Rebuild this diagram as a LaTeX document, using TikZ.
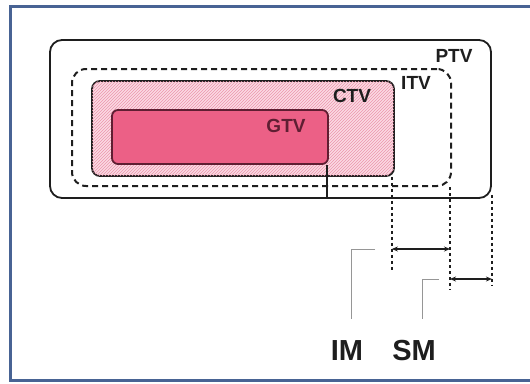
\documentclass[tikz,border=0pt]{standalone}
\usepackage{fontspec}
\setmainfont{Liberation Sans}
\usepackage{tikz}
\usetikzlibrary{arrows.meta,patterns,calc}
\usepackage{xcolor}
\definecolor{Frame}{RGB}{72,99,148}
\definecolor{Ink}{RGB}{30,30,30}
\definecolor{GtvRed}{RGB}{236,96,134}
\definecolor{GtvInk}{RGB}{95,30,50}
\definecolor{CtvPink}{RGB}{251,218,228}
\definecolor{CtvHatch}{RGB}{236,150,172}
\definecolor{Leader}{RGB}{150,150,150}
\tikzset{
  vol/.style={rectangle,draw=Ink,line width=1.8pt,inner sep=0pt},
  ptvbox/.style={vol,rounded corners=12pt,minimum width=441pt,minimum height=158pt},
  itvbox/.style={vol,line width=2pt,dash pattern=on 6pt off 4pt,rounded corners=14pt,
                 minimum width=379pt,minimum height=117pt},
  ctvbox/.style={vol,rounded corners=8pt,minimum width=302pt,minimum height=95pt,
                 fill=CtvPink,postaction={pattern=north east lines,pattern color=CtvHatch}},
  gtvbox/.style={vol,rounded corners=6pt,minimum width=216pt,minimum height=54pt,
                 fill=GtvRed,draw=GtvInk},
  vlabel/.style={font=\fontsize{19}{19}\selectfont\bfseries,text=Ink,inner sep=0pt},
  mlabel/.style={font=\fontsize{29}{29}\selectfont\bfseries,text=Ink,inner sep=0pt},
  extline/.style={Ink,line width=2.6pt,dash pattern=on 3pt off 3pt},
  dimarrow/.style={<->,>={Stealth[length=6pt,width=5pt]},Ink,line width=1.5pt},
  leader/.style={Leader,line width=1pt},
}

\begin{document}
\begin{tikzpicture}[x=1pt,y=-1pt]
  \useasboundingbox (0,0) rectangle (530,383);
  \fill[white] (0,0) rectangle (530,383);
  \draw[Frame,line width=3pt] (10,6) rectangle (545,380);

  % target volumes
  \node[ptvbox] (ptv) at (270.5,119) {};
  \node[itvbox] (itv) at (261.5,127.5) {};
  \node[ctvbox] (ctv) at (243,128.5) {};
  \node[gtvbox] (gtv) at (220,137) {};

  \node[vlabel] (ptvlab) at (454,56) {PTV};
  \node[vlabel] (itvlab) at (416,83) {ITV};
  \node[vlabel] (ctvlab) at (352,96) {CTV};
  \node[vlabel,text=GtvInk] (gtvlab) at (286,126) {GTV};

  % extension lines
  \coordinate (gtvA) at ([xshift=-2pt]gtv.south east);
  \coordinate (gtvB) at (gtvA |- ptv.south);
  \coordinate (ctvA) at ([xshift=-3pt]ctv.south east);
  \coordinate (ctvB) at (ctvA |- 0,272);
  \coordinate (itvA) at ([xshift=-2pt]itv.south east);
  \coordinate (itvB) at (itvA |- 0,290);
  \coordinate (ptvA) at (ptv.south east);
  \coordinate (ptvB) at (ptvA |- 0,285);
  \draw[Ink,line width=1.2pt] (gtvA) -- (gtvB);
  \draw[extline] (ctvA) -- (ctvB);
  \draw[extline] (itvA) -- (itvB);
  \draw[extline] ([yshift=4pt]ptvA) -- (ptvB);

  % margins
  \coordinate (imL) at (ctvA |- 0,249);
  \coordinate (imR) at (itvA |- 0,249);
  \coordinate (smL) at (itvA |- 0,279);
  \coordinate (smR) at (ptvA |- 0,279);
  \draw[dimarrow] (imL) -- (imR);
  \draw[dimarrow] (smL) -- (smR);

  \node[mlabel] (im) at (347,351) {IM};
  \node[mlabel] (sm) at (414,351) {SM};

  \coordinate (imlead) at (375,249);
  \coordinate (smlead) at (439,279);
  \draw[leader] (imlead) -- (351,249) -- (351,319);
  \draw[leader] (smlead) -- (422,279) -- (422,319);
\end{tikzpicture}
\end{document}
